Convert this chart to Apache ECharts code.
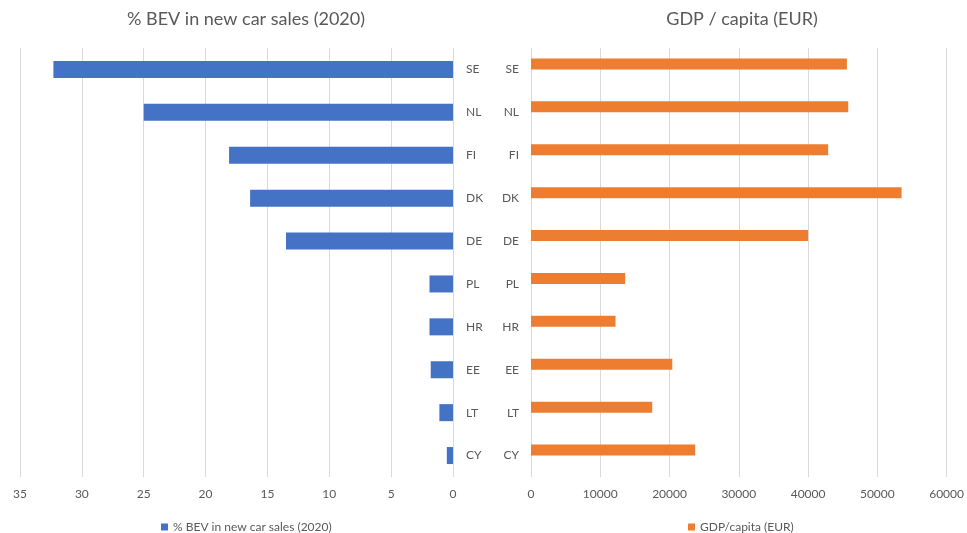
<!DOCTYPE html>
<html>
<head>
<meta charset="utf-8">
<script src="https://cdn.jsdelivr.net/npm/echarts@6/dist/echarts.min.js"></script>
<style>
  html, body { margin: 0; padding: 0; background: #ffffff; }
  #chart { width: 967px; height: 533px; }
</style>
</head>
<body>
<div id="chart"></div>
<script>
// Countries, top to bottom
const countries = ['SE', 'NL', 'FI', 'DK', 'DE', 'PL', 'HR', 'EE', 'LT', 'CY'];
// Share of battery electric vehicles in new car sales, 2020 (%)
const bevShare = [32.3, 25.0, 18.1, 16.4, 13.5, 1.9, 1.9, 1.8, 1.1, 0.5];
// GDP per capita (EUR)
const gdpPerCapita = [45600, 45800, 42900, 53500, 40000, 13600, 12200, 20400, 17500, 23700];

const bevTicks = { min: 0, max: 35, interval: 5 };
const gdpTicks = { min: 0, max: 60000, interval: 10000 };

const FONT = 'Lato';
const TEXT = '#595959';
const GRID = '#d9d9d9';

const chart = echarts.init(document.getElementById('chart'), null, { renderer: 'canvas' });

const valueAxisBase = {
  type: 'value',
  axisLine: { show: false },
  axisTick: { show: false },
  splitLine: { show: true, lineStyle: { color: GRID, width: 1 } },
  axisLabel: { color: TEXT, fontFamily: FONT, fontSize: 12, margin: 11,
               formatter: (v) => String(v) }
};
const catAxisBase = {
  type: 'category',
  data: countries,
  inverse: true,
  axisLine: { show: false },
  axisTick: { show: false },
  axisLabel: { color: TEXT, fontFamily: FONT, fontSize: 12, margin: 13 }
};

chart.setOption({
  backgroundColor: '#ffffff',
  animation: false,
  textStyle: { fontFamily: FONT },
  title: [
    {
      text: '% BEV in new car sales (2020)',
      left: 241, top: 5, textAlign: 'center',
      textStyle: { color: TEXT, fontFamily: FONT, fontSize: 18, fontWeight: 'normal' }
    },
    {
      text: 'GDP / capita (EUR)',
      left: 737, top: 5, textAlign: 'center',
      textStyle: { color: TEXT, fontFamily: FONT, fontSize: 18, fontWeight: 'normal' }
    }
  ],
  legend: [
    {
      data: ['% BEV in new car sales (2020)'],
      left: 156, top: 516,
      icon: 'rect', itemWidth: 7, itemHeight: 7,
      textStyle: { color: TEXT, fontFamily: FONT, fontSize: 12 }
    },
    {
      data: ['GDP/capita (EUR)'],
      left: 683, top: 516,
      icon: 'rect', itemWidth: 7, itemHeight: 7,
      textStyle: { color: TEXT, fontFamily: FONT, fontSize: 12 }
    }
  ],
  grid: [
    { left: 20, right: 514, top: 48, bottom: 56 },
    { left: 531, right: 20, top: 48, bottom: 56 }
  ],
  xAxis: [
    Object.assign({}, valueAxisBase, { gridIndex: 0, inverse: true }, bevTicks),
    Object.assign({}, valueAxisBase, { gridIndex: 1 }, gdpTicks)
  ],
  yAxis: [
    Object.assign({}, catAxisBase, { gridIndex: 0, position: 'right' }),
    Object.assign({}, catAxisBase, { gridIndex: 1, position: 'left',
      axisLabel: Object.assign({}, catAxisBase.axisLabel, { margin: 12 }) })
  ],
  series: [
    {
      name: '% BEV in new car sales (2020)',
      type: 'bar',
      xAxisIndex: 0, yAxisIndex: 0,
      data: bevShare,
      barWidth: 17,
      itemStyle: { color: '#4472C4' }
    },
    {
      name: 'GDP/capita (EUR)',
      type: 'bar',
      xAxisIndex: 1, yAxisIndex: 1,
      data: gdpPerCapita,
      barWidth: 11,
      barGap: '0%',
      itemStyle: { color: '#ED7D31' }
    },
    {
      // empty companion slot in each category cluster
      name: 'slot',
      type: 'bar',
      xAxisIndex: 1, yAxisIndex: 1,
      data: countries.map(() => null),
      barWidth: 11,
      barGap: '0%',
      silent: true
    }
  ]
});
</script>
</body>
</html>
